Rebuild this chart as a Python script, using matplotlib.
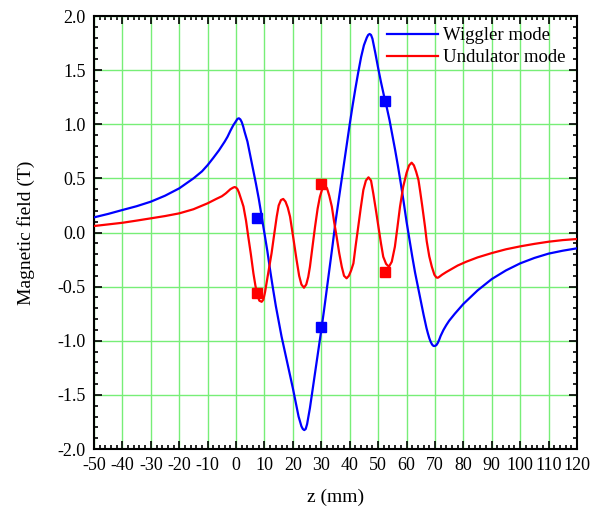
import matplotlib
matplotlib.use("Agg")
import matplotlib.pyplot as plt
from matplotlib.ticker import MultipleLocator

plt.rcParams['font.family'] = ['Liberation Serif', 'DejaVu Serif']
plt.rcParams['axes.unicode_minus'] = False

# Wiggler mode (blue) curve
wig_z = [-50, -45, -40, -35, -30, -25, -20, -15, -12, -10, -8, -6, -4, -3, -2, -1,
         0, 0.5, 1, 1.5, 2, 2.5, 3, 4, 5, 6, 7, 8, 9, 10, 11, 12, 13, 14, 15, 16,
         17, 18, 19, 20, 21, 22, 23, 23.5, 24, 24.5, 25, 26, 27, 28, 29, 30, 31, 32,
         33, 34, 35, 36, 37, 38, 39, 40, 41, 42, 43, 44, 45, 46, 46.5, 47, 47.5, 48,
         49, 50, 51, 52, 53, 54, 55, 56, 57, 58, 59, 60, 61, 62, 63, 64, 65, 66, 67,
         67.5, 68, 68.5, 69, 69.5, 70, 70.5, 71, 71.5, 72, 73, 74, 75, 77, 80, 85,
         90, 95, 100, 105, 110, 115, 120]
wig_b = [0.14, 0.172, 0.208, 0.243, 0.285, 0.34, 0.408, 0.50, 0.565, 0.623, 0.69,
         0.76, 0.84, 0.885, 0.94, 0.99, 1.03, 1.05, 1.055, 1.045, 1.02, 0.98, 0.93,
         0.84, 0.71, 0.58, 0.45, 0.31, 0.15, -0.01, -0.17, -0.35, -0.52, -0.68,
         -0.82, -0.96, -1.08, -1.2, -1.32, -1.44, -1.57, -1.7, -1.79, -1.815, -1.825,
         -1.815, -1.77, -1.62, -1.44, -1.26, -1.08, -0.9, -0.71, -0.51, -0.31, -0.11,
         0.1, 0.28, 0.46, 0.64, 0.82, 1.0, 1.17, 1.33, 1.48, 1.62, 1.73, 1.80, 1.825,
         1.834, 1.825, 1.79, 1.66, 1.52, 1.39, 1.27, 1.16, 1.04, 0.9, 0.76, 0.61,
         0.45, 0.28, 0.1, -0.06, -0.22, -0.37, -0.5, -0.63, -0.76, -0.88, -0.93,
         -0.975, -1.01, -1.035, -1.048, -1.048, -1.04, -1.02, -0.99, -0.955, -0.9,
         -0.855, -0.815, -0.75, -0.66, -0.535, -0.43, -0.35, -0.285, -0.235, -0.195,
         -0.168, -0.146]

# Undulator mode (red) curve
und_z = [-50, -45, -40, -35, -30, -25, -20, -15, -10, -7, -5, -3.6, -2, -1, -0.5,
         0, 0.5, 1, 1.5, 2, 2.6, 3.5, 4.3, 5.2, 6.1, 6.8, 7.5, 8.2, 9, 9.6, 10.2,
         10.7, 11.6, 12.5, 13.4, 14.3, 15, 15.8, 16.6, 17.4, 18.2, 19, 20.2, 21.3,
         22.2, 23, 23.9, 24.7, 25.4, 26, 26.9, 27.8, 28.7, 29.5, 30.3, 31.2, 32,
         32.8, 33.7, 34.5, 35.4, 36.3, 37.2, 38, 38.9, 39.7, 40.5, 41.3, 42.1, 43,
         43.9, 44.8, 45.7, 46.6, 47.5, 48.3, 49.2, 50.1, 51, 51.8, 52.8, 53.8, 54.8,
         55.9, 56.8, 57.7, 58.8, 60, 60.9, 61.8, 62.6, 63.4, 64.2, 64.8, 65.5, 66.5,
         67.1, 68, 68.9, 69.8, 70.5, 71, 71.5, 72.5, 74, 76, 78, 81, 85, 90, 95, 100,
         105, 110, 115, 120]
und_b = [0.06, 0.075, 0.09, 0.11, 0.131, 0.152, 0.177, 0.215, 0.27, 0.31, 0.335,
         0.362, 0.40, 0.415, 0.42, 0.415, 0.40, 0.37, 0.33, 0.29, 0.24, 0.11, -0.04,
         -0.2, -0.377, -0.49, -0.58, -0.63, -0.64, -0.62, -0.55, -0.47, -0.33, -0.19,
         -0.02, 0.146, 0.25, 0.30, 0.31, 0.285, 0.23, 0.146, -0.06, -0.254, -0.40,
         -0.48, -0.51, -0.48, -0.41, -0.316, -0.13, 0.054, 0.22, 0.33, 0.40, 0.43,
         0.41, 0.34, 0.24, 0.10, -0.04, -0.19, -0.316, -0.40, -0.423, -0.40, -0.35,
         -0.285, -0.12, 0.054, 0.23, 0.393, 0.48, 0.51, 0.48, 0.36, 0.21, 0.054,
         -0.10, -0.224, -0.29, -0.316, -0.27, -0.131, 0.05, 0.238, 0.42, 0.55, 0.62,
         0.645, 0.62, 0.56, 0.485, 0.38, 0.25, 0.054, -0.08, -0.22, -0.316, -0.39,
         -0.415, -0.418, -0.41, -0.39, -0.365, -0.335, -0.305, -0.27, -0.23, -0.19,
         -0.155, -0.128, -0.105, -0.085, -0.07, -0.06]

# Square markers
wig_marker_z = [7.5, 30, 52.5]
wig_marker_b = [0.137, -0.876, 1.215]
und_marker_z = [7.5, 30, 52.5]
und_marker_b = [-0.56, 0.445, -0.365]

fig = plt.figure(figsize=(5.97, 5.08), dpi=100)
ax = fig.add_axes([0.1575, 0.1161, 0.809, 0.8524])

ax.plot(wig_z, wig_b, color='#0000FF', lw=1.6, label='Wiggler mode', zorder=3)
ax.plot(und_z, und_b, color='#FF0000', lw=1.6, label='Undulator mode', zorder=3)
ax.plot(wig_marker_z, wig_marker_b, ls='none', marker='s', ms=6.5,
        color='#0000FF', zorder=4)
ax.plot(und_marker_z, und_marker_b, ls='none', marker='s', ms=6.5,
        color='#FF0000', zorder=4)

ax.set_xlim(-50, 120)
ax.set_ylim(-2.0, 2.0)
ax.xaxis.set_major_locator(MultipleLocator(10))
ax.xaxis.set_minor_locator(MultipleLocator(2))
ax.yaxis.set_major_locator(MultipleLocator(0.5))
ax.yaxis.set_minor_locator(MultipleLocator(0.1))
ax.yaxis.set_major_formatter(plt.FormatStrFormatter('%.1f'))

ax.grid(True, which='major', color='#77EE77', lw=1.0, zorder=0)
ax.set_axisbelow(True)

ax.tick_params(which='both', direction='in', top=True, right=True,
               labelsize=13, colors='black', width=1.2)
ax.tick_params(which='major', length=6)
ax.tick_params(which='minor', length=3)
ax.tick_params(axis='x', which='major', pad=6)
ax.tick_params(axis='y', which='major', pad=6)
for s in ax.spines.values():
    s.set_linewidth(1.5)

ax.set_xlabel('z (mm)', fontsize=14, labelpad=10)
ax.set_ylabel('Magnetic field (T)', fontsize=14, labelpad=16)

ax.legend(loc='upper right', frameon=False, fontsize=13.5, handlelength=2.7,
          handletextpad=0.3, borderaxespad=0.2, labelspacing=0.25)

fig.savefig('out.png', dpi=100)
